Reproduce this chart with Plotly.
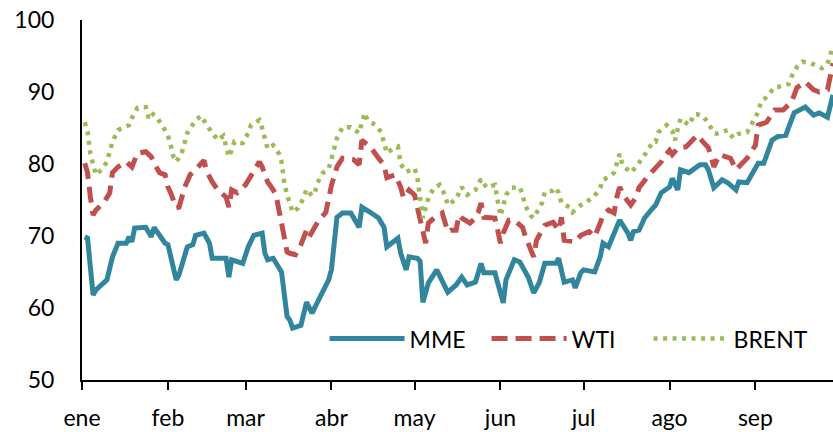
import pandas as pd
import plotly.graph_objects as go

# Day offsets from 1 Jan 2023 and prices (USD/bbl)
dias_mme = [1,2,4,5,9,11,13,16,17,18, 19,23,25,26,30,31,34,35,38,40,
            41,44,46,47,52,53,54,58,60,62, 65,66,67,69,72,74,75,76,79,81,
            83,87,88,89,90,92,94,97,100,101, 104,107,109,110,114,115,117,118,121,122,
            123,125,128,132,135,137,139,142,144,145, 149,152,153,156,158,161,163,165,167,171,
            172,174,177,178,180,181,185,187,188,190, 194,197,198,199,201,203,206,207,209,212,
            213,215,216,219,223,225,226,228,231,233, 236,237,240,244,246,249,251,254,255,257,
            261,264,266,269,271]
mme = [69.9,69.7,61.8,62.5,63.9,67.1,69.0,69.0,69.9,69.2, 71.1,71.2,69.9,71.2,69.0,68.8,63.9,64.6,68.5,68.8,
       70.1,70.4,69.0,66.9,66.9,64.3,66.7,66.2,68.5,70.1, 70.4,67.6,66.7,66.9,65.0,58.8,58.3,57.2,57.6,60.8,
       59.3,62.5,62.9,63.9,65.3,72.6,73.2,73.2,71.2,74.0, 73.3,72.5,71.2,68.5,69.7,67.6,65.3,67.1,66.9,66.5,
       60.8,63.5,65.3,62.2,63.2,64.3,63.2,63.6,66.2,64.9, 64.9,60.7,63.9,66.7,66.4,64.3,62.1,63.5,66.2,66.2,
       66.9,63.6,63.9,62.8,64.9,65.3,65.0,67.1,69.0,68.5, 72.2,70.4,69.4,70.6,70.8,72.5,73.9,74.3,76.0,76.8,
       78.0,76.4,79.2,78.8,79.9,79.9,79.2,76.7,77.8,77.4, 76.4,77.5,77.4,80.1,80.1,83.3,83.8,84.0,85.1,87.1,
       87.9,86.8,87.1,86.5,89.6]

dias_wti = [1,2,3,4,5,8,10,11,13,16, 18,20,23,25,26,28,30,31,32,34,
            35,37,39,41,44,45,47,49,52,53, 54,56,59,62,64,65,67,69,70,72,
            74,75,77,79,81,82,85,88,89,90, 92,94,98,100,101,104,107,109,110,113,
            115,116,118,120,121,122,124,125,127,130, 132,133,135,136,137,140,142,143,144,145,
            149,150,151,152,154,156,159,160,162,163, 164,167,170,172,173,174,178,180,183,185,
            187,188,190,192,193,194,196,198,200,201, 204,207,209,210,212,213,215,218,220,222,
            224,226,227,228,230,234,236,238,240,243, 244,247,250,253,256,258,261,264,266,269,
            271]
wti = [80.1,78.8,75.5,72.9,73.6,74.7,76.0,78.8,79.6,80.3, 79.6,81.5,81.7,81.0,80.1,78.8,78.5,76.8,76.0,73.9,
       74.0,76.7,78.5,79.2,80.5,79.0,77.5,76.4,75.4,74.0, 76.4,76.0,77.1,79.2,80.3,79.6,77.5,76.4,75.7,71.8,
       67.8,67.6,67.4,68.8,70.8,69.9,71.9,73.3,75.0,77.0, 79.6,80.8,80.6,79.9,83.3,82.4,80.8,79.9,78.1,78.5,
       76.8,75.3,76.4,75.7,74.0,72.2,69.0,71.8,72.5,73.2, 70.6,70.8,70.8,72.9,72.5,71.8,72.5,73.3,74.6,72.6,
       72.5,70.8,69.0,70.4,72.2,72.2,71.2,69.9,68.1,67.1, 69.4,71.5,71.9,70.8,72.6,69.4,69.2,70.1,70.6,69.9,
       71.8,72.9,73.6,73.2,75.4,76.8,75.3,74.3,75.4,76.7, 78.2,79.4,80.3,81.0,81.9,81.3,82.2,82.4,83.1,84.0,
       83.1,82.3,81.0,79.6,81.3,80.8,79.2,79.9,80.8,82.6, 85.4,85.8,87.5,87.5,88.6,90.6,91.4,90.3,90.0,90.3,
       94.0]

dias_brent = [1,2,3,4,5,7,9,11,13,14, 17,18,20,23,24,25,27,29,31,32,
              33,34,36,37,38,41,43,45,47,49, 51,52,53,54,55,58,60,61,64,65,
              66,67,69,71,72,73,74,76,78,80, 81,83,84,85,87,89,90,91,92,94,
              97,100,101,102,103,106,108,109,110,112, 114,115,117,120,121,122,123,124,125,127,
              129,131,132,135,136,137,139,142,144,145, 146,149,150,151,152,153,155,158,159,160,
              162,163,165,166,167,170,171,172,173,176, 177,180,182,185,187,188,190,192,193,194,
              195,198,200,202,204,206,207,208,211,213, 214,215,216,219,221,222,224,226,228,229,
              233,235,237,240,242,244,245,247,250,251, 255,256,258,260,263,267,269,270,271]
brent = [85.8,84.5,81.5,80.0,78.5,79.2,80.3,83.1,84.7,84.9, 85.4,86.4,87.8,87.9,86.4,87.1,86.5,85.3,84.0,82.6,
         81.0,80.3,81.5,82.9,84.3,86.1,86.7,85.4,84.3,83.3, 83.9,82.4,81.0,81.9,83.1,82.9,84.3,85.4,86.1,85.0,
         83.5,82.1,82.6,81.5,80.3,77.4,75.7,73.3,73.9,75.3, 76.5,75.6,76.0,77.4,78.8,79.3,80.7,82.2,83.6,85.1,
         85.1,84.3,85.7,87.1,86.1,85.4,84.4,83.1,81.5,82.1, 82.4,80.0,78.9,79.4,78.2,75.3,72.5,73.9,75.3,76.7,
         77.1,75.7,74.3,75.1,76.0,76.8,75.7,76.4,77.9,77.4, 76.7,77.1,74.5,72.8,74.2,75.7,76.7,76.8,75.7,74.2,
         72.8,72.5,73.9,74.6,76.1,76.3,76.7,76.0,74.6,74.0, 73.3,74.3,74.7,75.6,76.7,77.8,78.2,78.8,80.1,81.4,
         79.9,78.8,79.6,80.6,81.8,83.1,83.1,84.4,85.4,84.6, 83.3,84.9,86.3,85.4,86.9,86.9,86.7,85.7,84.3,84.2,
         84.7,83.6,84.2,84.4,85.7,87.2,88.6,89.3,90.7,90.7, 91.1,92.1,93.5,94.2,94.0,93.3,93.9,95.4,96.4]

meses = ["2023-01-01", "2023-02-01", "2023-03-01", "2023-04-01", "2023-05-01",
         "2023-06-01", "2023-07-01", "2023-08-01", "2023-09-01"]
etiquetas = ["ene", "feb", "mar", "abr", "may", "jun", "jul", "ago", "sep"]

inicio = pd.Timestamp("2023-01-01")


def fechas(dias):
    return inicio + pd.to_timedelta(dias, unit="D")


fig = go.Figure()
fig.add_trace(go.Scatter(x=fechas(dias_mme), y=mme, name="MME", mode="lines",
                         line=dict(color="#31859C", width=5)))
fig.add_trace(go.Scatter(x=fechas(dias_wti), y=wti, name="WTI", mode="lines",
                         line=dict(color="#C0504D", width=5, dash="16px,8px")))
fig.add_trace(go.Scatter(x=fechas(dias_brent), y=brent, name="BRENT", mode="lines",
                         line=dict(color="#9BBB59", width=4.5, dash="4px,5.5px")))

font_family = "Lato, Open Sans, sans-serif"
fig.update_layout(
    width=833, height=432,
    margin=dict(l=82, r=0, t=20, b=52, autoexpand=False),
    paper_bgcolor="white", plot_bgcolor="white",
    font=dict(family=font_family, size=23, color="black"),
    showlegend=True,
    legend=dict(orientation="h", x=0.323, y=0.115, xanchor="left", yanchor="middle",
                bgcolor="rgba(0,0,0,0)", font=dict(size=23), itemwidth=75,
                entrywidth=72, tracegroupgap=0),
)
fig.update_xaxes(
    type="date", range=["2023-01-01", "2023-09-29"],
    tickvals=meses, ticktext=etiquetas,
    showgrid=False, zeroline=False, automargin=False,
    showline=True, linecolor="black", linewidth=2,
    ticks="outside", ticklen=8, tickwidth=1.5, tickcolor="black",
    ticklabelstandoff=8, ticklabeloverflow="allow",
    tickfont=dict(size=23),
)
fig.update_yaxes(
    range=[50, 100], tickvals=[50, 60, 70, 80, 90, 100],
    showgrid=False, zeroline=False, automargin=False,
    showline=True, linecolor="black", linewidth=2,
    ticks="", ticklabelstandoff=21, ticklabeloverflow="allow",
    tickfont=dict(size=23),
)

# remove the default page margin so the 833x432 figure fills the window
fig.write_html(
    "out.html",
    config={"displayModeBar": False},
    post_script="document.body.style.margin='0';document.body.style.overflow='hidden';",
)
